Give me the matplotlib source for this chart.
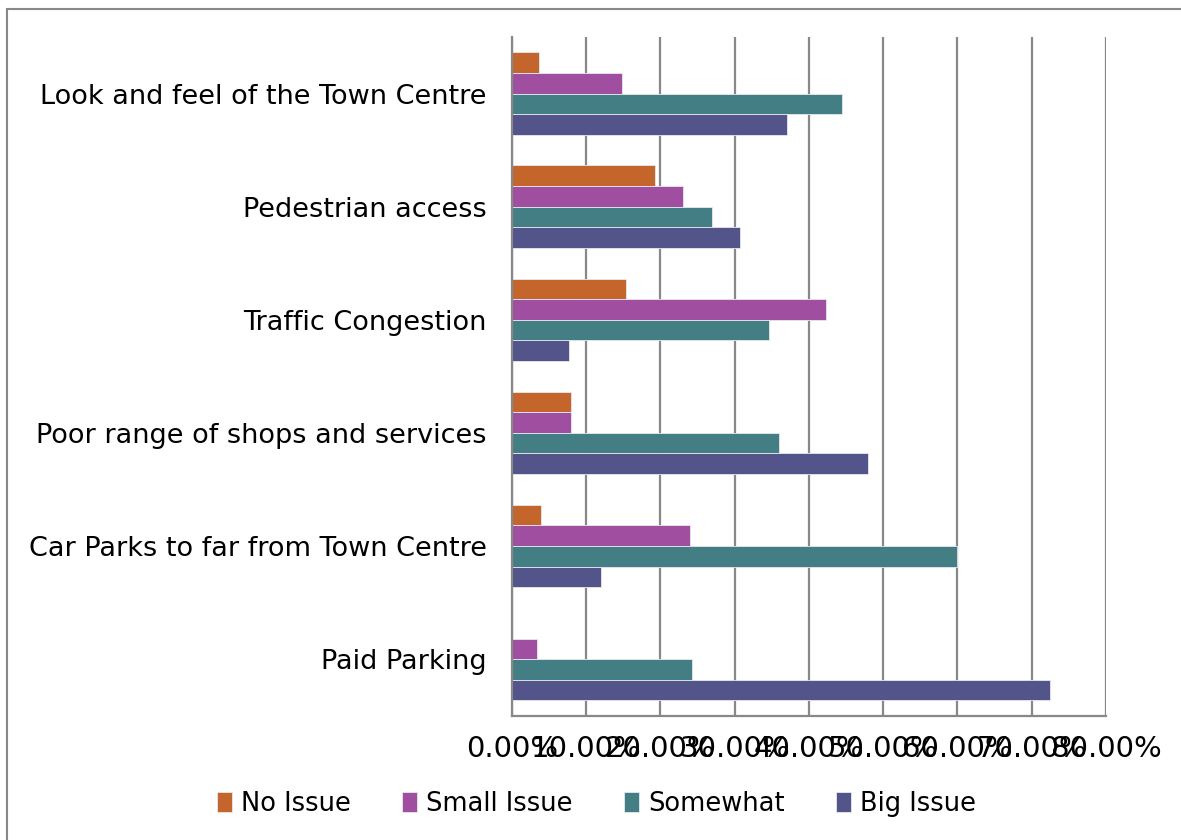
import numpy as np
import matplotlib.pyplot as plt
from matplotlib.patches import Rectangle

categories = ["Paid Parking", "Car Parks to far from Town Centre",
              "Poor range of shops and services", "Traffic Congestion",
              "Pedestrian access", "Look and feel of the Town Centre"]
series = ["No Issue", "Small Issue", "Somewhat", "Big Issue"]
no_issue = [0.0, 3.9, 8.0, 15.4, 19.3, 3.7]
small_issue = [3.4, 24.0, 8.0, 42.3, 23.1, 14.8]
somewhat = [24.2, 60.0, 36.0, 34.6, 26.9, 44.4]
big_issue = [72.5, 12.0, 48.0, 7.7, 30.7, 37.0]
colors = ["#C4652C", "#A04FA0", "#437E84", "#535489"]
ticks = np.arange(0, 81, 10)

fig = plt.figure(figsize=(11.81, 8.40), dpi=100)
ax = fig.add_axes([0.4335, 0.148, 0.503, 0.808])

y = np.arange(len(categories))
h = 0.182
offsets = [1.5 * h, 0.5 * h, -0.5 * h, -1.5 * h]
for vals, off, c, name in zip([no_issue, small_issue, somewhat, big_issue],
                              offsets, colors, series):
    ax.barh(y + off, vals, height=h, color=c, label=name,
            edgecolor="#e8e8f0", linewidth=0.6, zorder=2)

ax.set_xlim(0, 80)
ax.set_ylim(-0.5, len(categories) - 0.5)
ax.set_xticks(ticks)
ax.set_xticklabels(["%.2f%%" % t for t in ticks], fontsize=21)
ax.set_yticks(y)
ax.set_yticklabels(categories, fontsize=19.5)
ax.tick_params(axis="y", length=0, pad=18)
ax.tick_params(axis="x", length=0, pad=14)
ax.set_axisbelow(True)
ax.grid(axis="x", color="#888888", linewidth=1.6)
for s in ["top", "right"]:
    ax.spines[s].set_visible(False)
for s in ["left", "bottom"]:
    ax.spines[s].set_color("#888888")
    ax.spines[s].set_linewidth(1.6)
    ax.spines[s].set_zorder(3)

fig.legend(loc="center", bbox_to_anchor=(0.505, 0.043), ncol=4,
           frameon=False, fontsize=18.5, handlelength=0.58, handleheight=0.82,
           handletextpad=0.35, columnspacing=2.0)

fig.patches.append(Rectangle((7 / 1181, -0.05), 1.2, 1 - 9 / 840 + 0.05,
                             transform=fig.transFigure, fill=False,
                             edgecolor="#888888", linewidth=1.5))

fig.savefig("out.png", dpi=100)
